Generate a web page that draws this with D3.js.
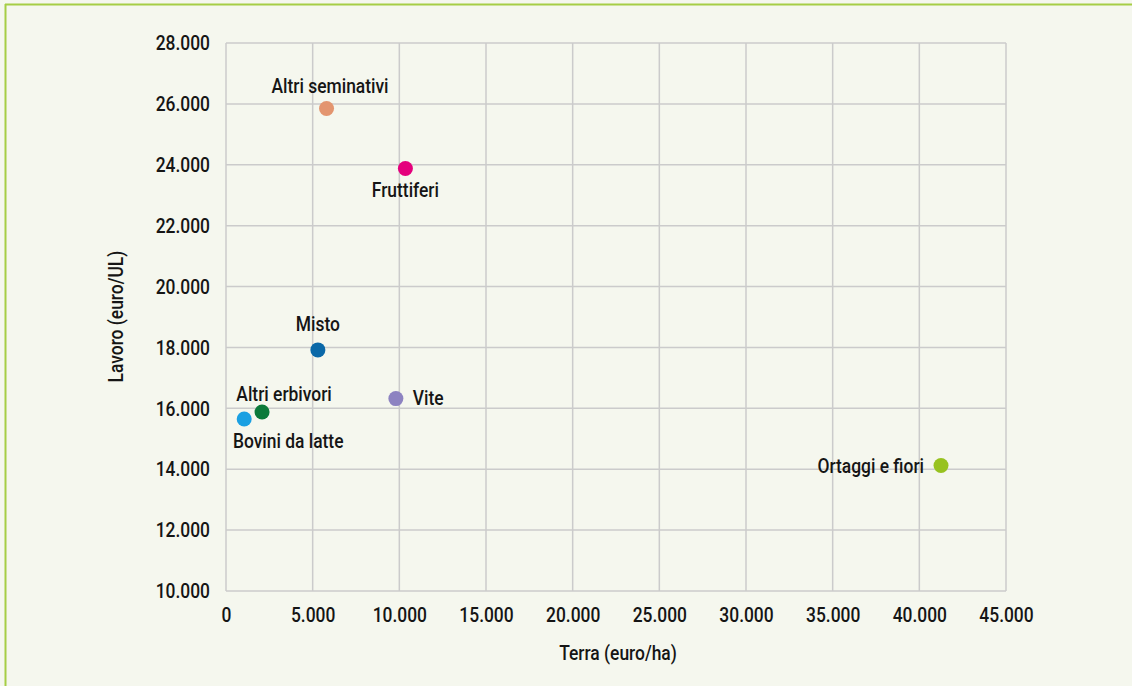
<!DOCTYPE html>
<html><head><meta charset="utf-8">
<script src="https://cdn.jsdelivr.net/npm/d3@7"></script>
<style>
html,body{margin:0;padding:0;background:#f5f7ee;}
svg{display:block;}
text{font-family:Roboto,"DejaVu Sans",sans-serif;font-weight:500;fill:#151515;}
</style></head><body>
<script>
const categories = ["Altri seminativi","Fruttiferi","Misto","Vite","Altri erbivori","Bovini da latte","Ortaggi e fiori"];
const terra = [5800, 10350, 5300, 9800, 2080, 1050, 41250];
const lavoro = [25850, 23880, 17920, 16320, 15880, 15650, 14120];
const colors = ["#e3956f","#e4007c","#0a68a8","#8d83c1","#0b7a3a","#1aa0e2","#97c21f"];
const xTicks = [0,5000,10000,15000,20000,25000,30000,35000,40000,45000];
const yTicks = [10000,12000,14000,16000,18000,20000,22000,24000,26000,28000];
// label placement: [anchor, dx, dy]
const labelPos = [["middle",3.5,-15],["middle",0,29],["middle",0,-19],["start",17,6],["middle",22,-11],["middle",44,29],["end",-17,7]];

const W=1132,H=686, FS=21, SX=0.83;
const svg=d3.select("body").append("svg").attr("width",W).attr("height",H);
svg.append("rect").attr("width",W).attr("height",H).attr("fill","#f5f7ee");
svg.append("line").attr("x1",5).attr("x2",W).attr("y1",4.5).attr("y2",4.5).attr("stroke","#a6ce45").attr("stroke-width",2);
svg.append("line").attr("x1",5.5).attr("x2",5.5).attr("y1",4).attr("y2",H).attr("stroke","#a6ce45").attr("stroke-width",2);

const x=d3.scaleLinear().domain([0,45000]).range([226,1006]);
const y=d3.scaleLinear().domain([10000,28000]).range([591,43]);
const fmt=d=>d3.format(",")(d).replace(/,/g,".");

const g=svg.append("g");
g.selectAll(".vx").data(xTicks).join("line").attr("x1",d=>x(d)).attr("x2",d=>x(d)).attr("y1",y(28000)).attr("y2",y(10000)).attr("stroke","#cbcbcb").attr("stroke-width",1.5);
g.selectAll(".hy").data(yTicks).join("line").attr("x1",x(0)).attr("x2",x(45000)).attr("y1",d=>y(d)).attr("y2",d=>y(d)).attr("stroke","#cbcbcb").attr("stroke-width",1.5);

const xa=svg.append("g").attr("transform",`translate(0,${y(10000)})`).call(d3.axisBottom(x).tickValues(xTicks).tickFormat(fmt).tickSize(0).tickPadding(16));
xa.select(".domain").remove();
xa.selectAll("text").attr("font-size",FS).attr("fill","#151515").attr("font-family",null).attr("transform",`scale(${SX},1)`);
const ya=svg.append("g").attr("transform",`translate(${x(0)},0)`).call(d3.axisLeft(y).tickValues(yTicks).tickFormat(fmt).tickSize(0).tickPadding(16/SX));
ya.select(".domain").remove();
ya.selectAll("text").attr("font-size",FS).attr("fill","#151515").attr("transform",`scale(${SX},1)`);
xa.attr("font-family",null); ya.attr("font-family",null);

svg.append("text").attr("transform",`translate(618,660) scale(${SX},1)`).attr("text-anchor","middle").attr("font-size",FS).text("Terra (euro/ha)");
svg.append("text").attr("transform",`translate(123,316.5) rotate(-90) scale(${SX},1)`).attr("text-anchor","middle").attr("font-size",FS).text("Lavoro (euro/UL)");

const pts=categories.map((c,i)=>({c,x:terra[i],y:lavoro[i],col:colors[i],lp:labelPos[i]}));
svg.selectAll("circle.p").data(pts).join("circle").attr("class","p").attr("cx",d=>x(d.x)).attr("cy",d=>y(d.y)).attr("r",7.5).attr("fill",d=>d.col);
svg.selectAll("text.l").data(pts).join("text").attr("class","l")
  .attr("transform",d=>`translate(${x(d.x)+d.lp[1]},${y(d.y)+d.lp[2]}) scale(${SX},1)`)
  .attr("text-anchor",d=>d.lp[0]).attr("font-size",FS).text(d=>d.c);
</script>
</body></html>
